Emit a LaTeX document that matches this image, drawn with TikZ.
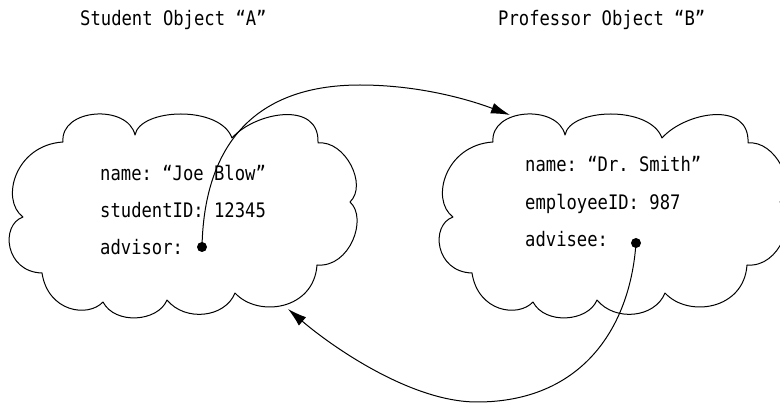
\documentclass[tikz,border=0pt]{standalone}
\usepackage{fontspec}
\setmonofont[FakeStretch=0.86]{DejaVu Sans Mono}
\usetikzlibrary{arrows.meta}
\tikzset{
  lbl/.style={anchor=base west, inner sep=0pt, font=\ttfamily\fontsize{20}{23}\selectfont},
  cloudline/.style={draw=black, line width=1pt, line join=round},
  ref/.style={draw=black, line width=1pt, -{Latex[length=19pt,width=11pt]}},
  dot/.style={circle, fill=black, minimum size=10pt, inner sep=0pt},
  objcloud/.pic={
    \path[cloudline] (63,142) .. controls (60,108) and (128,104) .. (135,135)
      .. controls (140,108) and (220,105) .. (232,138)
      .. controls (255,112) and (320,100) .. (318,143)
      .. controls (345,140) and (368,185) .. (350,202)
      .. controls (368,218) and (350,268) .. (317,265)
      .. controls (314,310) and (258,318) .. (235,293)
      .. controls (225,318) and (185,322) .. (167,300)
      .. controls (158,322) and (115,325) .. (103,302)
      .. controls (88,318) and (48,312) .. (42,273)
      .. controls (5,272) and (0,225) .. (23,217)
      .. controls (0,200) and (15,145) .. (63,142) -- cycle;
  }
}
\begin{document}
\begin{tikzpicture}[x=1pt,y=-1pt]
\useasboundingbox (0,0) rectangle (780,403);
\clip (0,0) rectangle (780,403);
% titles
\node[lbl] (titleA) at (80,25.5) {Student Object “A”};
\node[lbl] (titleB) at (498,25.5) {Professor Object “B”};
% clouds
\pic at (0,0) {objcloud};
\pic at (430,0) {objcloud};
% student fields
\node[lbl] (nameA) at (100,181) {name: “Joe Blow”};
\node[lbl] (idA) at (100,218) {studentID: 12345};
\node[lbl] (advA) at (100,255) {advisor:};
% professor fields
\node[lbl] (nameB) at (525,172) {name: “Dr. Smith”};
\node[lbl] (idB) at (525,210) {employeeID: 987};
\node[lbl] (advB) at (525,247) {advisee:};
% dots
\node[dot] (dA) at (202,247) {};
\node[dot] (dB) at (636,243) {};
\coordinate (tipB) at (510,115);
\coordinate (tipA) at (288,309);
% references
\draw[ref] (dA.center) .. controls (204,150) and (250,85) .. (360,85)
  .. controls (420,85) and (470,100) .. (tipB);
\draw[ref] (dB.center) .. controls (630,330) and (580,402) .. (477,402)
  .. controls (410,402) and (330,345) .. (tipA);
\end{tikzpicture}
\end{document}
